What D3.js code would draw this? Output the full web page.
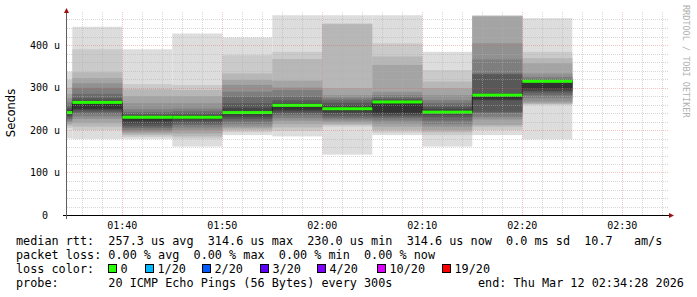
<!DOCTYPE html>
<html>
<head>
<meta charset="utf-8">
<script src="https://cdn.jsdelivr.net/npm/d3@7"></script>
<style>
  body { margin: 0; background: #fff; }
  svg { display: block; }
  text { font-family: "DejaVu Sans Mono", monospace; fill: #000; }
</style>
</head>
<body>
<svg id="chart" width="697" height="297"></svg>
<script>
// 5 minute steps, each step holds the 20 sorted pings (us) and the median
var stepEnds = ["01:35", "01:40", "01:45", "01:50", "01:55", "02:00", "02:05", "02:10", "02:15", "02:20", "02:25"];
var medians = [241, 265, 230, 230, 241, 258, 250, 266, 242, 282, 314.6];
var pings = [
  [180, 205, 210, 214, 218, 222, 226, 230, 234, 238, 244, 248, 252, 258, 265, 275, 285, 300, 318, 337],
  [179, 200, 208, 216, 226, 232, 239, 243, 247, 250, 267, 270, 275, 285, 299, 310, 322, 336, 390, 443],
  [179, 184, 188, 192, 196, 200, 205, 209, 215, 222, 232, 234, 238, 242, 249, 263, 280, 296, 308, 390],
  [161, 180, 185, 192, 200, 206, 212, 216, 222, 226, 232, 235, 239, 244, 250, 263, 280, 294, 306, 427],
  [188, 195, 200, 204, 208, 214, 220, 226, 231, 236, 244, 252, 263, 278, 290, 306, 318, 333, 376, 418],
  [185, 198, 206, 214, 222, 228, 235, 240, 244, 248, 260, 263, 270, 278, 294, 300, 316, 367, 384, 470],
  [142, 208, 212, 215, 220, 225, 229, 234, 240, 244, 254, 258, 264, 271, 276, 282, 298, 449, 451, 470],
  [188, 194, 200, 208, 215, 222, 228, 232, 236, 241, 267, 270, 273, 277, 282, 290, 353, 373, 404, 470],
  [161, 188, 195, 200, 208, 214, 222, 230, 236, 240, 245, 250, 255, 263, 270, 282, 298, 314, 341, 384],
  [188, 200, 208, 212, 225, 231, 240, 243, 270, 272, 283, 286, 331, 333, 366, 404, 467, 468, 469, 470],
  [178, 259, 261, 263, 267, 275, 282, 288, 292, 298, 313, 315, 317, 320, 325, 333, 357, 369, 384, 463]
];
var yTicks = [0, 100, 200, 300, 400];
var lossLabels = ["0", "1/20", "2/20", "3/20", "4/20", "10/20", "19/20"];
var lossColors = ["#26ff00", "#00b8ff", "#0059ff", "#5e00ff", "#7e00ff", "#dd00ff", "#ff0000"];
var legendLines = [
  "median rtt:  257.3 us avg  314.6 us max  230.0 us min  314.6 us now  0.0 ms sd  10.7   am/s",
  "packet loss: 0.00 % avg  0.00 % max  0.00 % min  0.00 % now",
  "loss color:",
  "probe:       20 ICMP Echo Pings (56 Bytes) every 300s"
];
var endLabel = "end: Thu Mar 12 02:34:28 2026";

var svg = d3.select("#chart");
var parse = d3.utcParse("%Y-%m-%d %H:%M:%S");
var t0 = parse("2026-03-12 01:34:28");
var t1 = parse("2026-03-12 02:34:28");

var x = d3.scaleUtc().domain([t0, t1]).range([67, 667]);
var y = d3.scaleLinear().domain([0, 480]).range([215, 11]);

var steps = stepEnds.map(function(s, i) {
  var end = parse("2026-03-12 " + s + ":00");
  var start = d3.utcMinute.offset(end, -5);
  if (start < t0) start = t0;
  return { x0: x(start), x1: x(end), p: pings[i], m: medians[i] };
});

// smoke: band i spans ping i .. ping 21-i, darker toward the middle
var smoke = svg.append("g");
for (var b = 1; b <= 10; b++) {
  var g = 19 * (10 - b) + 50;
  smoke.selectAll(null)
    .data(steps)
    .join("rect")
      .attr("x", d => d.x0)
      .attr("width", d => d.x1 - d.x0)
      .attr("y", d => y(d.p[20 - b]))
      .attr("height", d => y(d.p[b - 1]) - y(d.p[20 - b]))
      .attr("fill", d3.rgb(g, g, g));
}

// median step line
var pts = [];
steps.forEach(d => { pts.push([d.x0, y(d.m)]); pts.push([d.x1, y(d.m)]); });
svg.append("path")
  .attr("d", d3.line()(pts))
  .attr("fill", "none")
  .attr("stroke", "#202020")
  .attr("stroke-width", 1);

svg.append("g").selectAll("rect")
  .data(steps)
  .join("rect")
    .attr("x", d => d.x0)
    .attr("width", d => d.x1 - d.x0)
    .attr("y", d => y(d.m) - 1.5)
    .attr("height", 3)
    .attr("fill", lossColors[0]);

// grid, drawn over the smoke
var minorCol = "rgba(175,175,175,0.5)";
var majorCol = "rgba(225,90,90,0.35)";
var grid = svg.append("g").attr("shape-rendering", "crispEdges");
var minorY = d3.range(20, 480, 20).filter(v => v % 100 != 0);
grid.selectAll(null).data(minorY).join("line")
  .attr("x1", 67).attr("x2", 668)
  .attr("y1", d => Math.round(y(d)) + 0.5).attr("y2", d => Math.round(y(d)) + 0.5)
  .attr("stroke", minorCol).attr("stroke-dasharray", "1,1");
var minorX = x.ticks(d3.utcMinute.every(2)).filter(t => t.getUTCMinutes() % 10 != 0);
grid.selectAll(null).data(minorX).join("line")
  .attr("x1", d => Math.round(x(d)) + 0.5).attr("x2", d => Math.round(x(d)) + 0.5)
  .attr("y1", 12).attr("y2", 215)
  .attr("stroke", minorCol).attr("stroke-dasharray", "1,1");
grid.selectAll(null).data(yTicks.slice(1)).join("line")
  .attr("x1", 67).attr("x2", 668)
  .attr("y1", d => Math.round(y(d)) + 0.5).attr("y2", d => Math.round(y(d)) + 0.5)
  .attr("stroke", majorCol).attr("stroke-dasharray", "1,1");
var majorX = x.ticks(d3.utcMinute.every(10));
grid.selectAll(null).data(majorX).join("line")
  .attr("x1", d => Math.round(x(d)) + 0.5).attr("x2", d => Math.round(x(d)) + 0.5)
  .attr("y1", 12).attr("y2", 215)
  .attr("stroke", majorCol).attr("stroke-dasharray", "1,1");

// axes
var ax = svg.append("g").attr("shape-rendering", "crispEdges");
ax.append("line").attr("x1", 63).attr("x2", 669).attr("y1", 215.5).attr("y2", 215.5).attr("stroke", "#000");
ax.append("line").attr("x1", 66.5).attr("x2", 66.5).attr("y1", 219).attr("y2", 11).attr("stroke", "#606060");
svg.append("path").attr("d", "M64,13L66.5,8L69,13Z").attr("fill", "#9a1010");
svg.append("path").attr("d", "M669,213L674,215.5L669,218Z").attr("fill", "#9a1010");

svg.append("g").selectAll("text")
  .data(majorX)
  .join("text")
    .attr("x", d => x(d))
    .attr("y", 229)
    .attr("text-anchor", "middle")
    .attr("font-size", "10px")
    .text(d3.utcFormat("%H:%M"));

svg.append("g").selectAll("text")
  .data(yTicks)
  .join("text")
    .attr("x", 60)
    .attr("y", d => y(d) + 3.5)
    .attr("text-anchor", "end")
    .attr("font-size", "10px")
    .attr("xml:space", "preserve")
    .text(d => d == 0 ? "0  " : d + " u");

svg.append("text")
  .attr("transform", "translate(15,113) rotate(-90)")
  .attr("text-anchor", "middle")
  .style("font-family", "'DejaVu Sans', sans-serif")
  .attr("font-size", "11.5px")
  .text("Seconds");

svg.append("text")
  .attr("transform", "translate(683,5) rotate(90)")
  .attr("font-size", "8.5px")
  .style("fill", "#b0b0b0")
  .text("RRDTOOL / TOBI OETIKER");

// legend
var leg = svg.append("g").attr("font-size", "11.8px");
legendLines.forEach((s, i) => {
  leg.append("text").attr("x", 16).attr("y", 245 + i * 14).attr("xml:space", "preserve").text(s);
});
leg.append("text").attr("x", 478).attr("y", 287).text(endLabel);

var boxX = [108.5, 145.5, 202.5, 260.5, 317.5, 377.5, 442.5];
lossLabels.forEach((l, i) => {
  leg.append("rect").attr("x", boxX[i]).attr("y", 264.5).attr("width", 8).attr("height", 8)
    .attr("fill", lossColors[i]).attr("stroke", "#000");
  leg.append("text").attr("x", boxX[i] + 12).attr("y", 273).text(l);
});
</script>
</body>
</html>
